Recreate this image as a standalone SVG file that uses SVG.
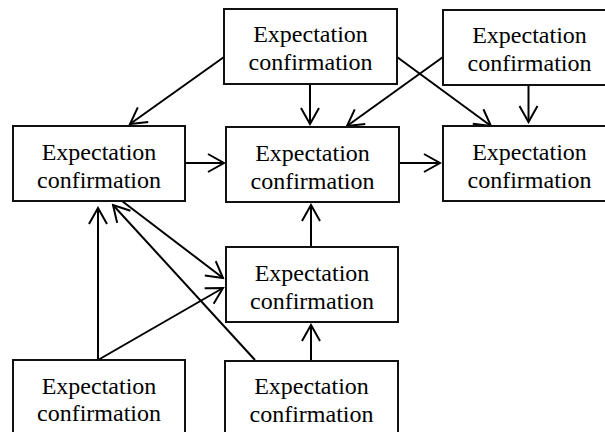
<svg xmlns="http://www.w3.org/2000/svg" width="605" height="432" viewBox="0 0 605 432">
<style>
.box{fill:#fff;stroke:#111;stroke-width:2}
.t{font-family:"Liberation Serif","Times New Roman",serif;font-size:24px;fill:#000;text-anchor:middle}
.c{stroke:#000;stroke-width:2;fill:none;marker-end:url(#ah)}
</style>
<defs>
<marker id="ah" markerUnits="userSpaceOnUse" orient="auto" markerWidth="20" markerHeight="22" viewBox="-18 -11 20 22" refX="0" refY="0">
<path d="M-16,-9 L0,0 L-16,9" fill="none" stroke="#000" stroke-width="2"/>
</marker>
</defs>
<rect width="605" height="432" fill="#fff"/>
<g id="connectors">
<line class="c" x1="224" y1="57" x2="130" y2="124"/>
<line class="c" x1="310" y1="84" x2="310" y2="124"/>
<line class="c" x1="443" y1="57" x2="347" y2="126"/>
<line class="c" x1="397" y1="57" x2="491" y2="126"/>
<line class="c" x1="528.5" y1="85" x2="528.5" y2="122"/>
<line class="c" x1="186" y1="163" x2="224" y2="163"/>
<line class="c" x1="400" y1="163" x2="440" y2="163"/>
<line class="c" x1="311" y1="247" x2="311" y2="205"/>
<line class="c" x1="311" y1="360" x2="311" y2="325"/>
<line class="c" x1="98" y1="360" x2="98" y2="208"/>
<line class="c" x1="98" y1="360" x2="223" y2="288"/>
<line class="c" x1="122" y1="201" x2="223" y2="278"/>
<line class="c" x1="255" y1="360" x2="113" y2="205"/>
</g>
<g id="n1"><rect class="box" x="224" y="9" width="173" height="75"/><text class="t" x="310.5" y="42">Expectation</text><text class="t" x="310.5" y="70">confirmation</text></g>
<g id="n2"><rect class="box" x="443" y="10" width="173" height="75"/><text class="t" x="529.5" y="43">Expectation</text><text class="t" x="529.5" y="71">confirmation</text></g>
<g id="n3"><rect class="box" x="13" y="126" width="172" height="75"/><text class="t" x="99" y="159.5">Expectation</text><text class="t" x="99" y="187.5">confirmation</text></g>
<g id="n4"><rect class="box" x="226" y="127" width="173" height="75"/><text class="t" x="312.5" y="160.5">Expectation</text><text class="t" x="312.5" y="188.5">confirmation</text></g>
<g id="n5"><rect class="box" x="443" y="126" width="173" height="75"/><text class="t" x="529.5" y="159.5">Expectation</text><text class="t" x="529.5" y="187.5">confirmation</text></g>
<g id="n6"><rect class="box" x="226" y="247" width="172" height="75"/><text class="t" x="312" y="280.5">Expectation</text><text class="t" x="312" y="308.5">confirmation</text></g>
<g id="n7"><rect class="box" x="13" y="360" width="172" height="75"/><text class="t" x="99" y="393.5">Expectation</text><text class="t" x="99" y="421">confirmation</text></g>
<g id="n8"><rect class="box" x="225" y="361" width="173" height="75"/><text class="t" x="311.5" y="394">Expectation</text><text class="t" x="311.5" y="421.5">confirmation</text></g>
</svg>
